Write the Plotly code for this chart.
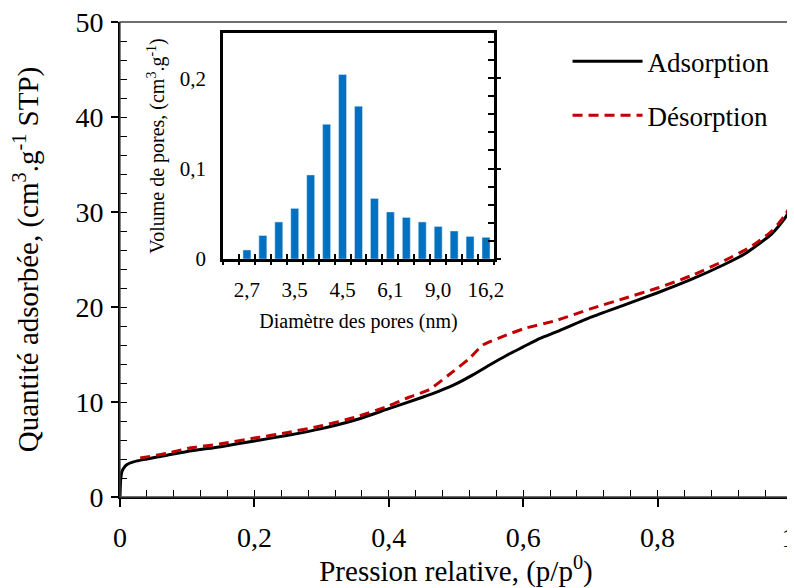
import plotly.graph_objects as go

# ---------------- data ----------------
p_ads = [0, 0.001, 0.003, 0.006, 0.01, 0.02, 0.04, 0.07, 0.10, 0.15, 0.20, 0.25, 0.30, 0.35,
         0.40, 0.45, 0.475, 0.50, 0.525, 0.55, 0.575, 0.60, 0.625, 0.65, 0.70, 0.75, 0.80,
         0.85, 0.90, 0.93, 0.95, 0.97, 0.98, 0.99, 1.0]
q_ads = [0, 1.8, 2.7, 3.1, 3.4, 3.7, 4.0, 4.4, 4.8, 5.3, 5.9, 6.5, 7.2, 8.1,
         9.3, 10.5, 11.15, 11.9, 12.85, 13.9, 14.9, 15.8, 16.7, 17.4, 18.9, 20.2, 21.5,
         22.9, 24.5, 25.6, 26.6, 27.7, 28.5, 29.4, 30.6]

p_des = [0.03, 0.07, 0.10, 0.15, 0.20, 0.25, 0.30, 0.35, 0.40, 0.43, 0.46, 0.49, 0.52, 0.54,
         0.57, 0.60, 0.65, 0.70, 0.75, 0.80, 0.85, 0.90, 0.93, 0.95, 0.97, 0.98, 0.99, 1.0]
q_des = [4.1, 4.6, 5.1, 5.6, 6.2, 6.8, 7.5, 8.4, 9.6, 10.5, 11.3, 12.9, 14.6, 16.0,
         16.9, 17.7, 18.6, 19.8, 20.9, 22.0, 23.3, 24.9, 26.0, 26.9, 28.0, 28.8, 29.7, 31.0]

diam = ["2,5", "2,7", "2,9", "3,2", "3,5", "3,8", "4,1", "4,5", "5,0", "5,5", "6,1",
        "6,8", "7,9", "9,0", "10,7", "12,9", "16,2"]
vol = [0.0, 0.010, 0.026, 0.041, 0.056, 0.093, 0.149, 0.204, 0.169, 0.067, 0.052,
       0.046, 0.041, 0.036, 0.031, 0.025, 0.024]
diam_ticks = ["2,7", "3,5", "4,5", "6,1", "9,0", "16,2"]

x_tickvals = [0, 0.2, 0.4, 0.6, 0.8, 1]
x_ticktext = ["0", "0,2", "0,4", "0,6", "0,8", "1\u00a0"]
y_tickvals = [0, 10, 20, 30, 40, 50]
ins_y_tickvals = [0, 0.1, 0.2]
ins_y_ticktext = ["0", "0,1", "0,2"]

FONT = "Liberation Serif"
BLUE = "#0070C0"
RED = "#C00000"

fig = go.Figure()
fig.add_trace(go.Scatter(x=p_ads, y=q_ads, mode="lines", name="Adsorption",
                         line=dict(color="black", width=3, shape="spline", smoothing=0.6),
                         legendgroup="a"))
fig.add_trace(go.Scatter(x=p_des, y=q_des, mode="lines", name="Désorption",
                         line=dict(color=RED, width=3, dash="10px,6px", shape="spline", smoothing=0.6),
                         legendgroup="d"))
fig.add_trace(go.Bar(x=diam, y=vol, marker_color=BLUE, width=0.5,
                     xaxis="x2", yaxis="y2", showlegend=False))
# helper (empty) traces so overlay tick axes are drawn
for xa, ya in [("x3", "y"), ("x", "y3"), ("x4", "y2"), ("x5", "y2"), ("x2", "y4"), ("x2", "y5")]:
    fig.add_trace(go.Scatter(x=[None], y=[None], xaxis=xa, yaxis=ya,
                             showlegend=False, hoverinfo="skip"))

common = dict(showgrid=False, zeroline=False, automargin=False)
tick_col = "black"

fig.update_layout(
    width=787, height=580,
    margin=dict(l=112, r=3, t=14, b=91),
    paper_bgcolor="white", plot_bgcolor="white",
    font=dict(family=FONT, color="black"),
    showlegend=True,
    legend=dict(x=0.666, y=0.968, xanchor="left", yanchor="top",
                font=dict(size=27, family=FONT), bgcolor="rgba(0,0,0,0)",
                traceorder="grouped", tracegroupgap=16, itemwidth=70),
    xaxis=dict(range=[0, 1], domain=[0, 1], anchor="y",
               tickvals=x_tickvals, ticktext=x_ticktext,
               ticks="outside", ticklen=8, tickwidth=1.5, tickcolor=tick_col,
               showline=True, linewidth=2, linecolor="black",
               tickfont=dict(size=28), ticklabelstandoff=6, ticklabeloverflow="allow",
               title=dict(text="Pression relative, (p/p<sup>0</sup>)", font=dict(size=29), standoff=12),
               **common),
    xaxis3=dict(range=[0, 1], overlaying="x", anchor="y", tick0=0, dtick=0.04,
                ticks="inside", ticklen=7, tickwidth=1.3, tickcolor=tick_col,
                showticklabels=False, showline=False, **common),
    yaxis=dict(range=[0, 50], domain=[0, 1], anchor="x",
               tickvals=y_tickvals,
               ticks="outside", ticklen=7, tickwidth=1.5, tickcolor=tick_col,
               showline=True, linewidth=2, linecolor="black",
               tickfont=dict(size=28), ticklabelstandoff=2, ticklabeloverflow="allow",
               title=dict(text="Quantité adsorbée, (cm<sup>3</sup>.g<sup>-1</sup> STP)",
                          font=dict(size=29), standoff=31),
               **common),
    yaxis3=dict(range=[0, 50], overlaying="y", anchor="x", side="left", tick0=0, dtick=2,
                ticks="inside", ticklen=7, tickwidth=1.3, tickcolor=tick_col,
                showticklabels=False, showline=False, **common),
    # ---------- inset ----------
    xaxis2=dict(domain=[0.1533, 0.5565], anchor="y2", type="category",
                range=[-0.5, 16.5], tickvals=diam_ticks, ticks="",
                showline=True, mirror=True, linewidth=2.5, linecolor="black",
                tickfont=dict(size=21), ticklabelstandoff=10,
                title=dict(text="Diamètre des pores (nm)", font=dict(size=20), standoff=14),
                **common),
    xaxis4=dict(overlaying="x2", anchor="y2", range=[-0.5, 16.5], tick0=-0.5, dtick=1,
                ticks="inside", ticklen=5, tickwidth=1.5, tickcolor=tick_col,
                showticklabels=False, showline=False, **common),
    xaxis5=dict(overlaying="x2", anchor="y2", range=[-0.5, 16.5], tick0=-0.5, dtick=1,
                ticks="outside", ticklen=5, tickwidth=1.5, tickcolor=tick_col,
                showticklabels=False, showline=False, **common),
    yaxis2=dict(domain=[0.501, 0.977], anchor="x2", range=[0, 0.25],
                tickvals=ins_y_tickvals, ticktext=ins_y_ticktext, ticks="",
                showline=True, mirror=True, linewidth=2.5, linecolor="black",
                tickfont=dict(size=21), ticklabelstandoff=10,
                title=dict(text="Volume de pores, (cm<sup>3</sup>.g<sup>-1</sup>)",
                           font=dict(size=20), standoff=10),
                **common),
    yaxis4=dict(overlaying="y2", anchor="x2", side="right", range=[0, 0.25], tick0=0, dtick=0.02,
                ticks="inside", ticklen=6, tickwidth=1.5, tickcolor=tick_col,
                showticklabels=False, showline=False, **common),
    yaxis5=dict(overlaying="y2", anchor="x2", side="right", range=[0, 0.25], tick0=0, dtick=0.1,
                ticks="outside", ticklen=6, tickwidth=1.5, tickcolor=tick_col,
                showticklabels=False, showline=False, **common),
    shapes=[dict(type="rect", xref="paper", yref="paper", x0=0, x1=1, y0=0, y1=1,
                 line=dict(color="#404040", width=1.3), layer="above")],
)

fig.write_html("out.html")
